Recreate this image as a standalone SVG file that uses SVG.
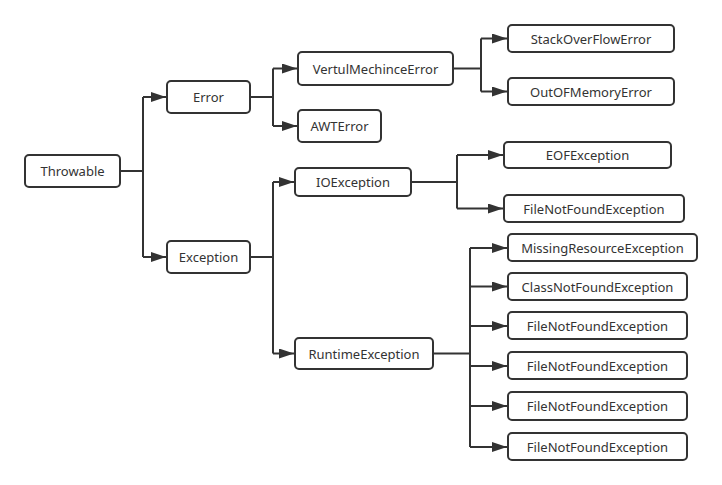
<svg xmlns="http://www.w3.org/2000/svg" width="722" height="485" viewBox="0 0 722 485">
<style>
.box{fill:#fff;stroke:#333;stroke-width:2}
.lbl{font-family:"Noto Sans","DejaVu Sans",sans-serif;font-size:13px;fill:#333;text-anchor:middle;dominant-baseline:central}
.ln{fill:none;stroke:#333;stroke-width:2}
.ar{fill:none;stroke:#333;stroke-width:2;marker-end:url(#ah)}
</style>
<defs>
<marker id="ah" markerUnits="userSpaceOnUse" markerWidth="16" markerHeight="12" refX="15" refY="5" orient="auto">
<path d="M0,0 L15,5 L0,10 z" fill="#333"/>
</marker>
</defs>
<rect width="722" height="485" fill="#fff"/>
<g id="connectors">
<path class="ln" d="M120,171 H143 M143,97 V257"/>
<path class="ar" d="M143,97 H166"/>
<path class="ar" d="M143,257 H166"/>
<path class="ln" d="M250,97 H273 M273,68.5 V126"/>
<path class="ar" d="M273,68.5 H297"/>
<path class="ar" d="M273,126 H297"/>
<path class="ln" d="M453,68.5 H481 M481,38.5 V91.5"/>
<path class="ar" d="M481,38.5 H507"/>
<path class="ar" d="M481,91.5 H507"/>
<path class="ln" d="M250,257 H273 M273,182 V353.5"/>
<path class="ar" d="M273,182 H294"/>
<path class="ar" d="M273,353.5 H294"/>
<path class="ln" d="M411,182 H457 M457,155 V208.5"/>
<path class="ar" d="M457,155 H503"/>
<path class="ar" d="M457,208.5 H503"/>
<path class="ln" d="M433,353.5 H470 M470,248 V447"/>
<path class="ar" d="M470,248 H507"/>
<path class="ar" d="M470,286.5 H507"/>
<path class="ar" d="M470,326 H507"/>
<path class="ar" d="M470,366 H507"/>
<path class="ar" d="M470,406 H507"/>
<path class="ar" d="M470,447 H507"/>
</g>
<g id="throwable"><rect class="box" x="25" y="155" width="95" height="32" rx="4"/><text class="lbl" x="72.5" y="171">Throwable</text></g>
<g id="error"><rect class="box" x="167" y="81" width="83" height="32" rx="4"/><text class="lbl" x="208.5" y="97">Error</text></g>
<g id="exception"><rect class="box" x="167" y="241" width="83" height="32" rx="4"/><text class="lbl" x="208.5" y="257">Exception</text></g>
<g id="vme"><rect class="box" x="298" y="52" width="155" height="33" rx="4"/><text class="lbl" x="375.5" y="68.5">VertulMechinceError</text></g>
<g id="awt"><rect class="box" x="298" y="110" width="83" height="32" rx="4"/><text class="lbl" x="339.5" y="126">AWTError</text></g>
<g id="soe"><rect class="box" x="508" y="25" width="166" height="27" rx="4"/><text class="lbl" x="591" y="38.5">StackOverFlowError</text></g>
<g id="oome"><rect class="box" x="508" y="78" width="166" height="27" rx="4"/><text class="lbl" x="591" y="91.5">OutOFMemoryError</text></g>
<g id="ioe"><rect class="box" x="295" y="168" width="116" height="28" rx="4"/><text class="lbl" x="353" y="182">IOException</text></g>
<g id="eof"><rect class="box" x="504" y="142" width="167" height="26" rx="4"/><text class="lbl" x="587.5" y="155">EOFException</text></g>
<g id="fnf0"><rect class="box" x="504" y="195" width="180" height="27" rx="4"/><text class="lbl" x="594" y="208.5">FileNotFoundException</text></g>
<g id="rte"><rect class="box" x="295" y="338" width="138" height="31" rx="4"/><text class="lbl" x="364" y="353.5">RuntimeException</text></g>
<g id="mre"><rect class="box" x="508" y="234" width="189" height="27" rx="4"/><text class="lbl" x="602.5" y="247.5">MissingResourceException</text></g>
<g id="cnf"><rect class="box" x="508" y="273" width="179" height="27" rx="4"/><text class="lbl" x="597.5" y="286.5">ClassNotFoundException</text></g>
<g id="fnf1"><rect class="box" x="508" y="312" width="179" height="27" rx="4"/><text class="lbl" x="597.5" y="325.5">FileNotFoundException</text></g>
<g id="fnf2"><rect class="box" x="508" y="352" width="179" height="27" rx="4"/><text class="lbl" x="597.5" y="365.5">FileNotFoundException</text></g>
<g id="fnf3"><rect class="box" x="508" y="392" width="179" height="28" rx="4"/><text class="lbl" x="597.5" y="406">FileNotFoundException</text></g>
<g id="fnf4"><rect class="box" x="508" y="433" width="179" height="27" rx="4"/><text class="lbl" x="597.5" y="446.5">FileNotFoundException</text></g>
</svg>
